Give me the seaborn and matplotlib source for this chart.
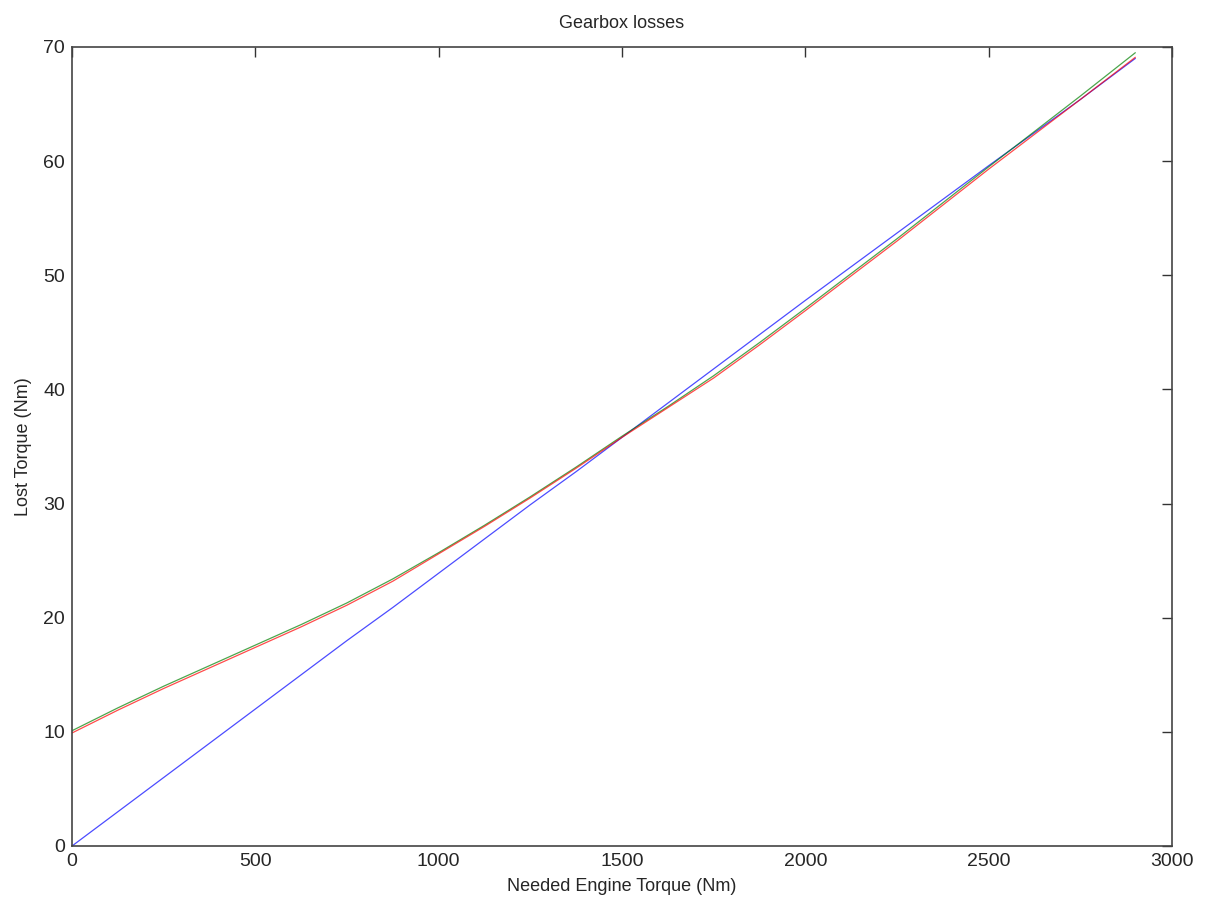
import numpy as np
import pandas as pd
import matplotlib
matplotlib.use("Agg")
import matplotlib.pyplot as plt
import seaborn as sns

# ============================
# Data
# ============================

torque = [0, 125, 250, 375, 500, 625, 750, 875, 1000, 1125, 1250, 1375, 1500,
          1625, 1750, 1875, 2000, 2250, 2500, 2750, 2900]
loss_blue = [0.0, 3.0, 6.0, 9.0, 12.0, 15.0, 18.0, 20.9, 23.9, 26.9, 29.9, 32.8, 35.8,
             38.8, 41.8, 44.8, 47.8, 53.7, 59.6, 65.4, 69.0]
loss_green = [10.1, 12.1, 14.0, 15.8, 17.6, 19.4, 21.3, 23.4, 25.7, 28.1, 30.6, 33.2, 35.9,
              38.5, 41.2, 44.1, 47.1, 53.2, 59.5, 65.7, 69.5]
loss_red = [9.9, 11.9, 13.8, 15.6, 17.4, 19.2, 21.1, 23.2, 25.6, 28.0, 30.5, 33.1, 35.8,
            38.4, 41.0, 43.9, 46.9, 53.0, 59.3, 65.4, 69.1]

df = pd.DataFrame({
    "torque": torque * 3,
    "loss": loss_blue + loss_green + loss_red,
    "series": ["blue"] * len(torque) + ["green"] * len(torque) + ["red"] * len(torque),
})

# ============================
# Plot
# ============================

sns.set_style("white")
plt.rcParams["font.family"] = ["Liberation Sans", "DejaVu Sans"]

fig = plt.figure(figsize=(12.16, 9.02), dpi=100)
ax = fig.add_axes([72 / 1216, 1 - 846 / 902, 1100 / 1216, 799 / 902])

sns.lineplot(
    data=df, x="torque", y="loss", hue="series",
    palette={"blue": "#0000ff", "green": "#008000", "red": "#ff0000"},
    linewidth=0.9, alpha=0.7, legend=False, ax=ax,
)

ax.set_xlim(0, 3000)
ax.set_ylim(0, 70)
ax.set_xticks(range(0, 3001, 500))
ax.set_yticks(range(0, 71, 10))
ax.tick_params(direction="in", top=True, right=True, length=7, width=1,
               color="#333333", labelsize=14, pad=5)
for s in ax.spines.values():
    s.set_color("#444444")
    s.set_linewidth(1.2)

ax.set_title("Gearbox losses", fontsize=13, pad=14)
ax.set_xlabel("Needed Engine Torque (Nm)", fontsize=13, labelpad=6)
ax.set_ylabel("Lost Torque (Nm)", fontsize=13, labelpad=8)

plt.savefig("out.png", dpi=100)
